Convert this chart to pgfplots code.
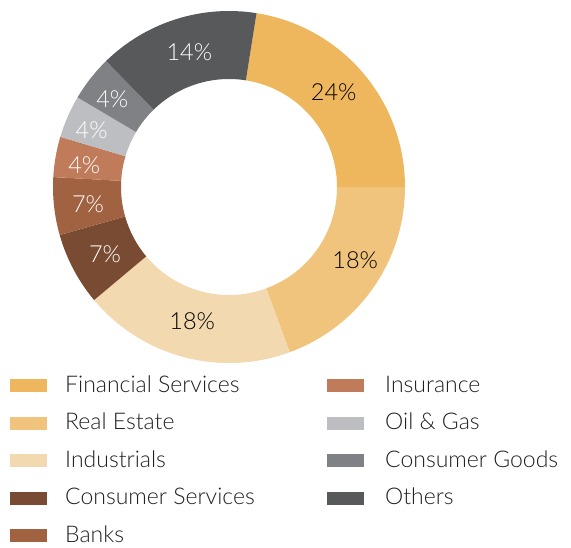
\documentclass[border=0pt]{standalone}
\usepackage{pgfplots}
\usepackage{pgfplotstable}
\pgfplotsset{compat=1.18}
\usepackage{fontspec}
\IfFontExistsTF{Lato Light}{\setmainfont{Lato Light}}{\setmainfont{Lato}}
\definecolor{cFin}{RGB}{239,183,93}
\definecolor{cRE}{RGB}{241,196,125}
\definecolor{cInd}{RGB}{242,217,176}
\definecolor{cCS}{RGB}{122,75,51}
\definecolor{cBank}{RGB}{160,98,64}
\definecolor{cIns}{RGB}{192,124,90}
\definecolor{cOil}{RGB}{189,190,193}
\definecolor{cCG}{RGB}{128,129,132}
\definecolor{cOth}{RGB}{88,89,91}
\definecolor{ctext}{RGB}{35,31,32}
\newcommand\lfont{\fontsize{23pt}{27pt}\selectfont}
\newcommand\pfont{\fontsize{23.5pt}{27pt}\selectfont}
% share (percent of the ring), printed label, fill colour, label colour, label position
\pgfplotstableread[col sep=comma]{
share,label,fill,txt,lx,ly
22.5,24,cFin,black,333.7,91.7
19.4,18,cRE,black,355.2,260.5
19.5,18,cInd,black,192.2,321.3
6.7,7,cCS,white,105,253.8
5.3,7,cBank,white,88,203.8
3.7,4,cIns,white,84.3,165
3.9,4,cOil,white,91.7,130.3
4.2,4,cCG,white,112.3,98.7
14.8,14,cOth,white,189.3,52
}\sectors
\begin{document}
\begin{tikzpicture}
\begin{axis}[
  at={(0,0)}, anchor=south west,
  width=571pt, height=547pt, scale only axis,
  xmin=0, xmax=571, ymin=0, ymax=547, y dir=reverse,
  hide axis, clip=false]
\def\cumangle{81}
\pgfplotsforeachungrouped \i in {0,...,8}{%
  \pgfplotstablegetelem{\i}{share}\of\sectors \let\sh\pgfplotsretval
  \pgfplotstablegetelem{\i}{label}\of\sectors \let\lb\pgfplotsretval
  \pgfplotstablegetelem{\i}{fill}\of\sectors \let\fc\pgfplotsretval
  \pgfplotstablegetelem{\i}{txt}\of\sectors \let\tc\pgfplotsretval
  \pgfplotstablegetelem{\i}{lx}\of\sectors \let\lx\pgfplotsretval
  \pgfplotstablegetelem{\i}{ly}\of\sectors \let\ly\pgfplotsretval
  \pgfmathsetmacro\aA{\cumangle}%
  \pgfmathsetmacro\aB{\cumangle-3.6*\sh}%
  \pgfmathsetmacro\aR{\aB+180}%
  \xdef\cumangle{\aB}%
  \edef\temp{\noexpand\fill[\fc] (axis cs:229,187) ++(\aA:176pt)
     arc[start angle=\aA, end angle=\aB, radius=176pt] -- ++(\aR:68pt)
     arc[start angle=\aB, end angle=\aA, radius=108pt] -- cycle;
     \noexpand\node[text=\tc, inner sep=0pt] at (axis cs:\lx,\ly)
       {\noexpand\pfont \lb\noexpand\%};}%
  \temp
}
% legend
\fill[cFin]  (axis cs:10,379) rectangle (axis cs:47,392);
\fill[cRE]   (axis cs:10,416.5) rectangle (axis cs:47,429.5);
\fill[cInd]  (axis cs:10,454) rectangle (axis cs:47,467);
\fill[cCS]   (axis cs:10,491.5) rectangle (axis cs:47,504.5);
\fill[cBank] (axis cs:10,529) rectangle (axis cs:47,542);
\fill[cIns]  (axis cs:327,379) rectangle (axis cs:364,392);
\fill[cOil]  (axis cs:327,416.5) rectangle (axis cs:364,429.5);
\fill[cCG]   (axis cs:327,454) rectangle (axis cs:364,467);
\fill[cOth]  (axis cs:327,491.5) rectangle (axis cs:364,504.5);
\tikzset{lg/.style={anchor=base west, inner sep=0pt, font=\lfont, text=ctext, text depth=0pt}}
\node[lg] at (axis cs:65,392) {Financial Services};
\node[lg] at (axis cs:65,429.5) {Real Estate};
\node[lg] at (axis cs:65,467) {Industrials};
\node[lg] at (axis cs:65,504.5) {Consumer Services};
\node[lg] at (axis cs:65,542) {Banks};
\node[lg] at (axis cs:385,392) {Insurance};
\node[lg] at (axis cs:385,429.5) {Oil \& Gas};
\node[lg] at (axis cs:385,467) {Consumer Goods};
\node[lg] at (axis cs:385,504.5) {Others};
\end{axis}
\pgfresetboundingbox
\path (0,0) rectangle (571pt,547pt);
\end{tikzpicture}
\end{document}
